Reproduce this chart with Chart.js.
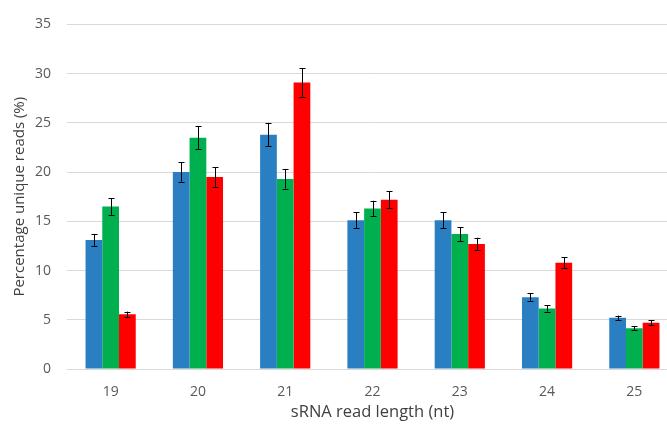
<!DOCTYPE html>
<html>
<head>
<meta charset="utf-8">
<script src="https://cdn.jsdelivr.net/npm/chart.js@4/dist/chart.umd.min.js"></script>
<style>
html,body{margin:0;padding:0;background:#fff;overflow:hidden;width:667px;height:425px;}
#wrap{position:absolute;left:0;top:0;width:680px;height:425px;}
</style>
</head>
<body>
<div id="wrap"><canvas id="c"></canvas></div>
<script>
const categories = ['19','20','21','22','23','24','25'];
const seriesBlue  = [13.1, 20.0, 23.8, 15.1, 15.1, 7.3, 5.2];
const seriesGreen = [16.5, 23.5, 19.3, 16.3, 13.7, 6.15, 4.15];
const seriesRed   = [5.55, 19.5, 29.1, 17.2, 12.7, 10.8, 4.7];
const errBlue  = [0.62, 0.99, 1.2, 0.8, 0.8, 0.38, 0.23];
const errGreen = [0.85, 1.19, 0.97, 0.79, 0.7, 0.33, 0.2];
const errRed   = [0.28, 0.97, 1.44, 0.89, 0.63, 0.57, 0.27];
const yTicks = [0, 5, 10, 15, 20, 25, 30, 35];

const errorBarPlugin = {
  id: 'errorBars',
  afterDatasetsDraw(chart) {
    const ctx = chart.ctx;
    const y = chart.scales.y;
    ctx.save();
    ctx.strokeStyle = '#000';
    ctx.lineWidth = 1;
    chart.data.datasets.forEach((ds, i) => {
      const meta = chart.getDatasetMeta(i);
      meta.data.forEach((bar, j) => {
        const v = ds.data[j], e = ds.errors[j];
        const x = Math.round(bar.x) + 0.5;
        const yt = y.getPixelForValue(v + e);
        const yb = y.getPixelForValue(v - e);
        ctx.beginPath();
        ctx.moveTo(x, yt); ctx.lineTo(x, yb);
        ctx.moveTo(x - 3, Math.round(yt) + 0.5); ctx.lineTo(x + 3, Math.round(yt) + 0.5);
        ctx.moveTo(x - 3, Math.round(yb) + 0.5); ctx.lineTo(x + 3, Math.round(yb) + 0.5);
        ctx.stroke();
      });
    });
    ctx.restore();
  }
};

new Chart(document.getElementById('c'), {
  type: 'bar',
  data: {
    labels: categories,
    datasets: [
      {data: seriesBlue, errors: errBlue, backgroundColor: '#2A7FC2'},
      {data: seriesGreen, errors: errGreen, backgroundColor: '#00B04F'},
      {data: seriesRed, errors: errRed, backgroundColor: '#FF0000'}
    ]
  },
  options: {
    responsive: true,
    maintainAspectRatio: false,
    animation: false,
    devicePixelRatio: 1,
    layout: {padding: {top: 12, right: 2, bottom: 0, left: 0}},
    datasets: {bar: {barPercentage: 1.0, categoryPercentage: 0.575}},
    plugins: {legend: {display: false}, tooltip: {enabled: false}},
    scales: {
      x: {
        afterFit(scale) { scale.height = 56; },
        grid: {display: false, drawTicks: false},
        border: {display: true, color: '#D9D9D9', width: 1},
        ticks: {color: '#595959', font: {family: 'Open Sans', size: 14}, padding: 15},
        title: {display: true, text: 'sRNA read length (nt)', color: '#404040',
                font: {family: 'Open Sans', size: 16.5}, padding: {top: 0, bottom: 3}}
      },
      y: {
        min: 0, max: 35,
        afterFit(scale) { scale.width = 67; },
        afterBuildTicks(scale) { scale.ticks = yTicks.map(v => ({value: v})); },
        grid: {color: '#D9D9D9', drawTicks: false},
        border: {display: false},
        ticks: {color: '#595959', font: {family: 'Open Sans', size: 14}, padding: 16},
        title: {display: true, text: 'Percentage unique reads (%)', color: '#404040',
                font: {family: 'Open Sans', size: 15}, padding: {top: 11, bottom: 0}}
      }
    }
  },
  plugins: [errorBarPlugin]
});
</script>
</body>
</html>
